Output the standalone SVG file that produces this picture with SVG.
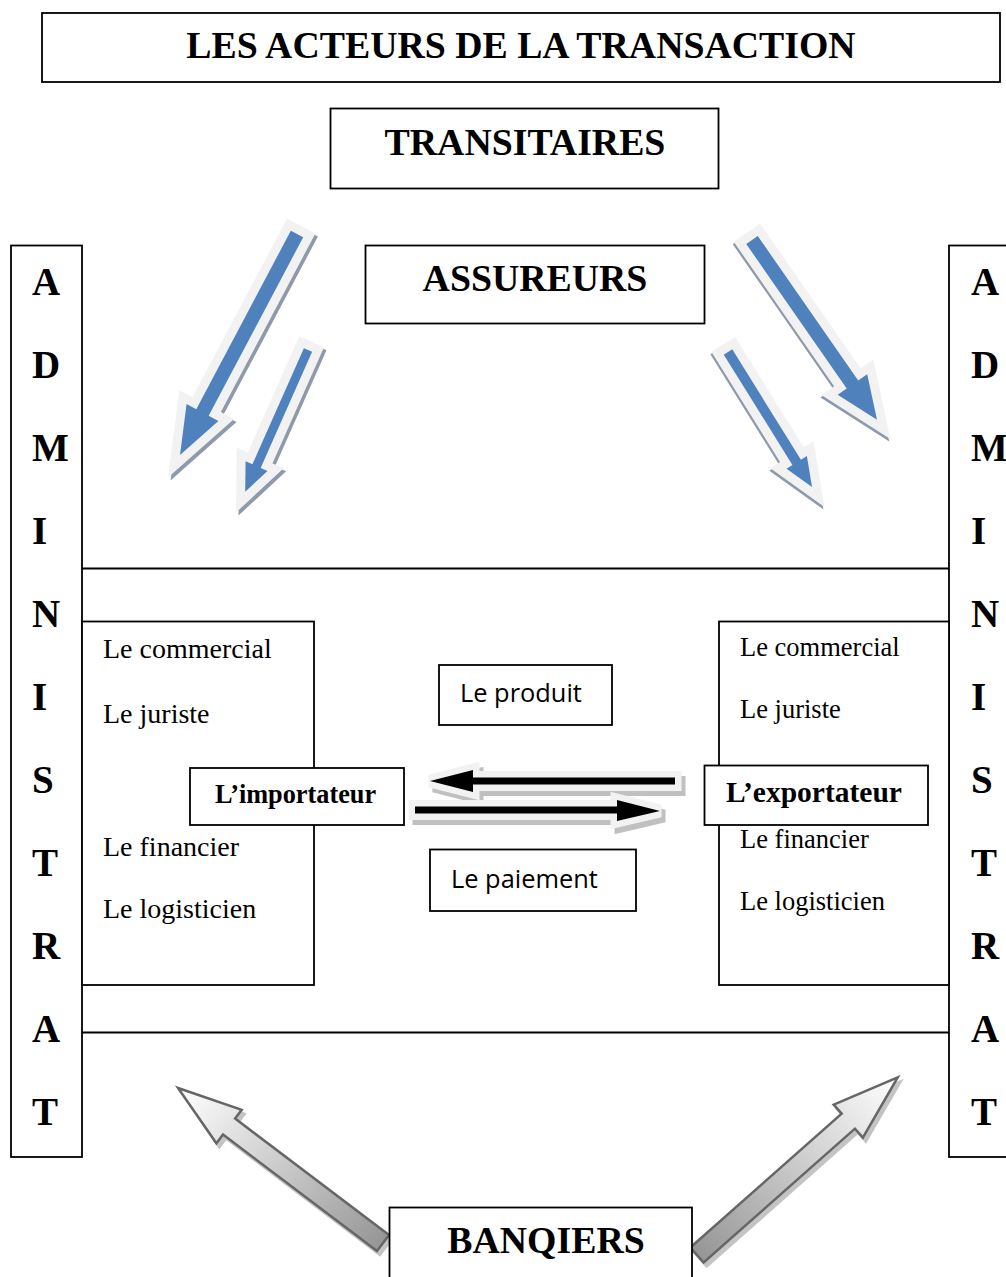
<svg xmlns="http://www.w3.org/2000/svg" width="1006" height="1277" viewBox="0 0 1006 1277">
<style>
.box{fill:#fff;stroke:#000;stroke-width:1.8}
.ln{stroke:#000;stroke-width:1.8;fill:none}
.big{font-family:"Liberation Serif","Times New Roman",serif;font-weight:bold;font-size:37.8px;fill:#000}
.let{font-family:"Liberation Serif","Times New Roman",serif;font-weight:bold;font-size:39px;fill:#000}
.role{font-family:"Liberation Serif","Times New Roman",serif;font-size:28px;fill:#000}
.roleR{font-family:"Liberation Serif","Times New Roman",serif;font-size:26.5px;fill:#000}
.actor{font-family:"Liberation Serif","Times New Roman",serif;font-weight:bold;font-size:26.3px;fill:#000}
.sans{font-family:"Open Sans","Liberation Sans",sans-serif;font-size:25.4px;fill:#000}
.glow{fill:#f2f2f2;stroke:#f2f2f2;stroke-width:18;stroke-linejoin:miter}
.shadow{fill:#8e9aab;stroke:#8e9aab;stroke-width:18;stroke-linejoin:miter}
.blue{fill:#4f81bd}
.gshadow{fill:#c4c4c4;stroke:#c4c4c4;stroke-width:2.5}
.garrow{fill:url(#gg);stroke:#666;stroke-width:2.5;stroke-linejoin:miter}
.cglow{fill:#f2f2f2;stroke:#f2f2f2;stroke-width:13;stroke-linejoin:miter}
.cshadow{fill:#c0c0c0;stroke:#c0c0c0;stroke-width:13;stroke-linejoin:miter}
</style>
<defs>
<linearGradient id="gg" x1="0" y1="0" x2="1" y2="0">
<stop offset="0" stop-color="#969696"/>
<stop offset="1" stop-color="#ffffff"/>
</linearGradient>
<path id="aBL" d="M0,-7 L202,-7 L202,-18 L250,0 L202,18 L202,7 L0,7Z"/>
<path id="aSL" d="M0,-4.5 L127,-4.5 L127,-12 L155,0 L127,12 L127,4.5 L0,4.5Z"/>
<path id="aBR" d="M0,-7 L176,-7 L176,-18 L219,0 L176,18 L176,7 L0,7Z"/>
<path id="aSR" d="M0,-5 L130,-5 L130,-12 L159,0 L130,12 L130,5 L0,5Z"/>
<path id="gL" d="M0,-10 L193,-10 L193,-21 L257,0 L193,21 L193,10 L0,10Z"/>
<path id="gR" d="M0,-10 L202,-10 L202,-22 L268,0 L202,22 L202,10 L0,10Z"/>
<path id="cL" d="M675,777.5 L473,777.5 L473,770 L430,781 L473,792 L473,784.5 L675,784.5Z"/>
<path id="cR" d="M415,806.5 L617,806.5 L617,800 L660,811 L617,821 L617,813.5 L415,813.5Z"/>
</defs>

<g id="title">
<rect class="box" x="42" y="13" width="958" height="69"/>
<text class="big" x="521" y="58" text-anchor="middle">LES ACTEURS DE LA TRANSACTION</text>
</g>

<g id="transitaires">
<rect class="box" x="330.5" y="108.5" width="388" height="80"/>
<text class="big" x="525" y="155" text-anchor="middle">TRANSITAIRES</text>
</g>

<g id="assureurs">
<rect class="box" x="365.5" y="245.5" width="339" height="78"/>
<text class="big" x="535" y="291" text-anchor="middle">ASSUREURS</text>
</g>

<g id="administrat-left">
<rect class="box" x="11" y="245.5" width="71" height="911.5"/>
<text class="let" x="32" y="295">A</text>
<text class="let" x="32" y="378">D</text>
<text class="let" x="32" y="461">M</text>
<text class="let" x="32" y="544">I</text>
<text class="let" x="32" y="627">N</text>
<text class="let" x="32" y="710">I</text>
<text class="let" x="32" y="793">S</text>
<text class="let" x="32" y="876">T</text>
<text class="let" x="32" y="959">R</text>
<text class="let" x="32" y="1042">A</text>
<text class="let" x="32" y="1125">T</text>
</g>

<g id="administrat-right">
<rect class="box" x="949" y="245.5" width="80" height="911.5"/>
<text class="let" x="971" y="295">A</text>
<text class="let" x="971" y="378">D</text>
<text class="let" x="971" y="461">M</text>
<text class="let" x="971" y="544">I</text>
<text class="let" x="971" y="627">N</text>
<text class="let" x="971" y="710">I</text>
<text class="let" x="971" y="793">S</text>
<text class="let" x="971" y="876">T</text>
<text class="let" x="971" y="959">R</text>
<text class="let" x="971" y="1042">A</text>
<text class="let" x="971" y="1125">T</text>
</g>

<g id="transaction-zone">
<line class="ln" x1="82" y1="568.5" x2="949" y2="568.5"/>
<line class="ln" x1="82" y1="1032.5" x2="949" y2="1032.5"/>
</g>

<g id="importateur-services">
<rect class="box" x="82" y="621.5" width="232" height="363.5"/>
<text class="role" x="103" y="658">Le commercial</text>
<text class="role" x="103" y="723">Le juriste</text>
<text class="role" x="103" y="856">Le financier</text>
<text class="role" x="103" y="918">Le logisticien</text>
</g>

<g id="exportateur-services">
<rect class="box" x="719" y="621.5" width="230" height="363.5"/>
<text class="roleR" x="740" y="656">Le commercial</text>
<text class="roleR" x="740" y="718">Le juriste</text>
<text class="roleR" x="740" y="848">Le financier</text>
<text class="roleR" x="740" y="910">Le logisticien</text>
</g>

<g id="produit">
<rect class="box" x="439" y="665" width="173" height="60"/>
<text class="sans" x="460" y="702">Le produit</text>
</g>

<g id="paiement">
<rect class="box" x="430" y="849.5" width="206" height="61.5"/>
<text class="sans" x="451" y="888">Le paiement</text>
</g>

<g id="connectors">
<g transform="translate(299.5,237) rotate(117.9)"><use href="#aBL" class="shadow"/></g>
<g transform="translate(297,234) rotate(117.9)"><use href="#aBL" class="glow"/><use href="#aBL" class="blue"/></g>
<g transform="translate(310.5,353) rotate(113.9)"><use href="#aSL" class="shadow"/></g>
<g transform="translate(308,350) rotate(113.9)"><use href="#aSL" class="glow"/><use href="#aSL" class="blue"/></g>
<g transform="translate(751,242.5) rotate(55.2)"><use href="#aBR" class="shadow"/></g>
<g transform="translate(752,240) rotate(55.2)"><use href="#aBR" class="glow"/><use href="#aBR" class="blue"/></g>
<g transform="translate(727,354.5) rotate(58.1)"><use href="#aSR" class="shadow"/></g>
<g transform="translate(728,352) rotate(58.1)"><use href="#aSR" class="glow"/><use href="#aSR" class="blue"/></g>

<use href="#cL" class="cshadow" transform="translate(4,5)"/>
<use href="#cL" class="cglow"/>
<use href="#cL" fill="#000"/>
<use href="#cR" class="cshadow" transform="translate(4,5)"/>
<use href="#cR" class="cglow"/>
<use href="#cR" fill="#000"/>

<g transform="translate(386,1247) rotate(-142.9)"><use href="#gL" class="gshadow"/></g>
<g transform="translate(383,1243) rotate(-142.9)"><use href="#gL" class="garrow"/></g>
<g transform="translate(700,1259) rotate(-41.5)"><use href="#gR" class="gshadow"/></g>
<g transform="translate(697,1255) rotate(-41.5)"><use href="#gR" class="garrow"/></g>
</g>

<g id="importateur">
<rect class="box" x="190" y="768" width="214" height="57"/>
<text class="actor" x="215" y="803">L’importateur</text>
</g>

<g id="exportateur">
<rect class="box" x="704.5" y="765.5" width="223.5" height="59.5"/>
<text class="actor" x="726" y="802" style="font-size:29.5px">L’exportateur</text>
</g>

<g id="banqiers">
<rect class="box" x="389.5" y="1207.5" width="302.5" height="80"/>
<text class="big" x="546" y="1253" text-anchor="middle">BANQIERS</text>
</g>
</svg>
